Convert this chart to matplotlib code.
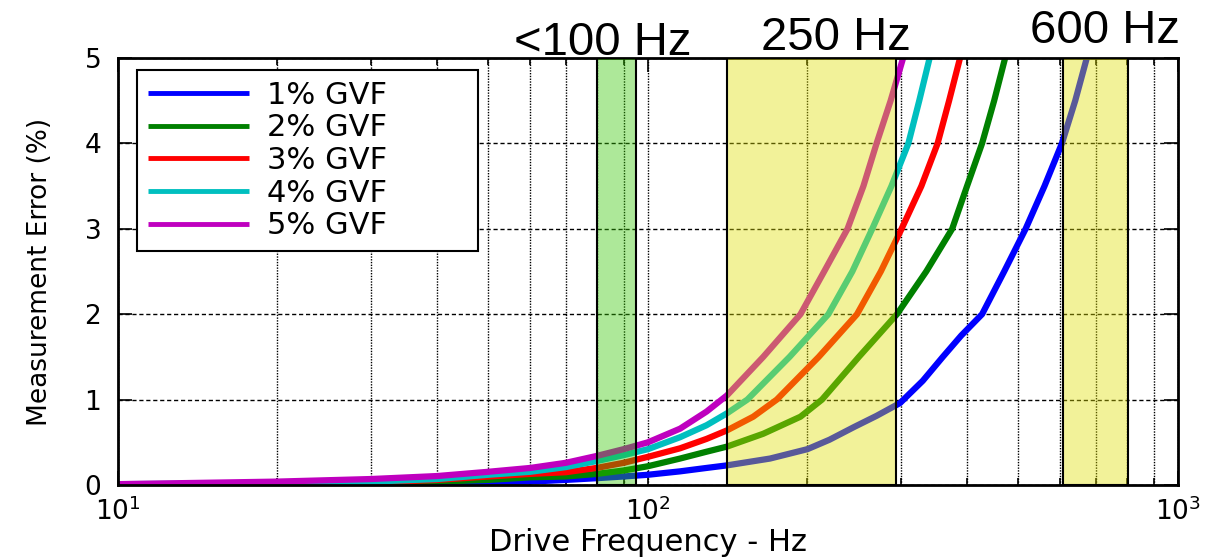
import numpy as np
import matplotlib
matplotlib.use("Agg")
import matplotlib.pyplot as plt
from matplotlib.ticker import LogLocator, NullFormatter

plt.rcParams['font.family'] = ['DejaVu Sans']
plt.rcParams['mathtext.fontset'] = 'dejavusans'

freq_1 = [10, 20, 30, 40, 50, 60, 70, 80, 90, 100, 115, 129, 141, 170, 200, 220, 245, 270, 299,
          330, 360, 390, 427, 470, 516, 560, 604, 640, 673]
err_1 = [0.002, 0.005, 0.01, 0.02, 0.03, 0.04, 0.06, 0.08, 0.10, 0.12, 0.16, 0.20, 0.23, 0.31,
         0.42, 0.53, 0.68, 0.81, 0.96, 1.22, 1.5, 1.75, 2.0, 2.5, 3.0, 3.5, 4.0, 4.5, 5.0]

freq_2 = [10, 20, 30, 40, 50, 60, 70, 80, 90, 100, 115, 129, 141, 165, 194, 213, 250, 295,
          335, 375, 400, 427, 450, 472]
err_2 = [0.003, 0.01, 0.02, 0.04, 0.06, 0.09, 0.10, 0.13, 0.17, 0.22, 0.31, 0.39, 0.45, 0.6,
         0.80, 1.0, 1.5, 2.0, 2.5, 3.0, 3.5, 4.0, 4.5, 5.0]

freq_3 = [10, 20, 30, 40, 50, 60, 70, 80, 90, 100, 115, 129, 141, 158, 175, 210, 248, 275,
          301, 328, 352, 370, 388]
err_3 = [0.005, 0.015, 0.03, 0.06, 0.10, 0.13, 0.15, 0.20, 0.26, 0.33, 0.43, 0.54, 0.64, 0.8,
         1.0, 1.5, 2.0, 2.5, 3.0, 3.5, 4.0, 4.5, 5.0]

freq_4 = [10, 20, 30, 40, 50, 60, 70, 80, 90, 100, 115, 129, 141, 154, 185, 219, 243, 265,
          288, 310, 325, 340]
err_4 = [0.01, 0.02, 0.04, 0.07, 0.12, 0.155, 0.21, 0.28, 0.35, 0.42, 0.56, 0.70, 0.84, 1.0,
         1.5, 2.0, 2.5, 3.0, 3.5, 4.0, 4.5, 5.0]

freq_5 = [10, 20, 30, 40, 50, 60, 70, 80, 90, 100, 115, 129, 141, 165, 194, 215, 238, 255,
          270, 287, 303]
err_5 = [0.01, 0.04, 0.07, 0.105, 0.155, 0.20, 0.26, 0.34, 0.42, 0.50, 0.66, 0.86, 1.05, 1.5,
         2.0, 2.5, 3.0, 3.5, 4.0, 4.5, 5.0]

labels = ["1% GVF", "2% GVF", "3% GVF", "4% GVF", "5% GVF"]
colors = ["#0000FF", "#008000", "#FF0000", "#00BFBF", "#BF00BF"]

# highlighted frequency windows
band_lo = [80, 141, 607]
band_hi = [95, 294, 805]
band_colors = [(0.2, 0.78, 0.0, 0.4), (0.88, 0.88, 0.0, 0.4), (0.88, 0.88, 0.0, 0.4)]
band_text = ["<100 Hz", "250 Hz", "600 Hz"]
text_x = [82, 226, 728]
text_y = [5.035, 5.094, 5.176]

fig = plt.figure(figsize=(12.26, 5.58), dpi=100)
ax = fig.add_axes([0.0962, 0.1308, 0.8646, 0.7652])

series = [(freq_1, err_1), (freq_2, err_2), (freq_3, err_3), (freq_4, err_4), (freq_5, err_5)]
for (f, e), lab, c in zip(series, labels, colors):
    ax.plot(f, e, color=c, lw=4.5, label=lab, zorder=2, solid_capstyle='butt')

for lo, hi, bc in zip(band_lo, band_hi, band_colors):
    ax.axvspan(lo, hi, facecolor=bc, edgecolor='k', lw=1.5, zorder=3)

for tx, ty, t in zip(text_x, text_y, band_text):
    ax.text(tx, ty, t, ha='center', va='baseline', fontsize=34,
            family=['Liberation Sans', 'DejaVu Sans'], clip_on=False)

ax.set_xscale('log')
ax.set_xlim(10, 1000)
ax.set_ylim(0, 5)
ax.set_yticks([0, 1, 2, 3, 4, 5])
ax.xaxis.set_minor_locator(LogLocator(base=10, subs=np.arange(2, 10)))
ax.xaxis.set_minor_formatter(NullFormatter())

ax.grid(True, axis='x', which='both', color='k', ls=(0, (1, 1)), lw=1)
ax.grid(True, axis='y', which='major', color='k', ls=(0, (3, 2)), lw=1)

ax.tick_params(axis='both', which='both', direction='in', top=True, right=True, width=1.2)
ax.tick_params(axis='both', which='major', length=10)
ax.tick_params(axis='both', which='minor', length=5)
ax.tick_params(axis='y', labelsize=19, pad=12)
ax.tick_params(axis='x', labelsize=19, pad=9)
for sp in ax.spines.values():
    sp.set_linewidth(2)

ax.set_xlabel("Drive Frequency - Hz", fontsize=22, va='baseline')
ax.xaxis.set_label_coords(0.5, -0.155)
ax.set_ylabel("Measurement Error (%)", fontsize=19, va='center')
ax.yaxis.set_label_coords(-0.0736, 0.5)

leg = ax.legend(loc='upper left', bbox_to_anchor=(0.018, 0.564, 0.322, 0.408),
                mode='expand', fontsize=22, handlelength=3.3, handletextpad=0.6,
                labelspacing=0.12, borderpad=0.35, borderaxespad=0,
                fancybox=False, framealpha=1, edgecolor='k')
leg.get_frame().set_linewidth(1.5)
leg.set_zorder(5)
for ln in leg.get_lines():
    ln.set_linewidth(3.5)

fig.savefig("out.png", dpi=100)
